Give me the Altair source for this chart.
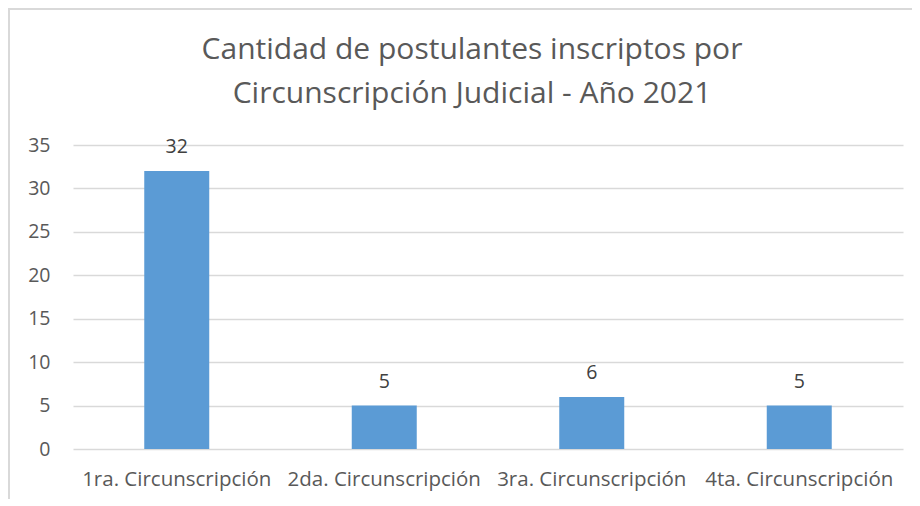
import altair as alt
import pandas as pd

categories = ["1ra. Circunscripción", "2da. Circunscripción", "3ra. Circunscripción", "4ta. Circunscripción"]
values = [32, 5, 6, 5]
title_lines = ["Cantidad de postulantes inscriptos por", "Circunscripción Judicial - Año 2021"]

df = pd.DataFrame({"cat": categories, "val": values})

FONT = "Open Sans"
GRAY = "#595959"

base = alt.Chart(df)

x = alt.X("cat:N", sort=categories, title=None,
          scale=alt.Scale(paddingInner=0.0, paddingOuter=0.0),
          axis=alt.Axis(labelAngle=0, labelFont=FONT, labelFontSize=20.5, labelColor=GRAY,
                        labelLimit=400, domain=False, ticks=False, labelPadding=20, grid=False))
y = alt.Y("val:Q", title=None,
          scale=alt.Scale(domain=[0, 35]),
          axis=alt.Axis(values=[0, 5, 10, 15, 20, 25, 30, 35], labelFont=FONT, labelFontSize=19.5,
                        labelColor=GRAY, domain=False, ticks=False, labelPadding=23,
                        gridColor="#d9d9d9", gridWidth=1.5))

bars = base.mark_bar(color="#5B9BD5", size=65).encode(x=x, y=y)
labels = base.mark_text(font=FONT, fontSize=19.5, color="#404040", baseline="alphabetic", dy=-18).encode(
    x=alt.X("cat:N", sort=categories), y="val:Q", text="val:Q")

one = pd.DataFrame({"a": [0]})
title1 = alt.Chart(pd.DataFrame({"t": [title_lines[0]]})).mark_text(
    font=FONT, fontSize=30, color=GRAY, baseline="alphabetic", align="center"
).encode(x=alt.value(399), y=alt.value(-86), text="t:N")
title2 = alt.Chart(pd.DataFrame({"t": [title_lines[1]]})).mark_text(
    font=FONT, fontSize=30, color=GRAY, baseline="alphabetic", align="center"
).encode(x=alt.value(399), y=alt.value(-42), text="t:N")

top_line = alt.Chart(one).mark_rule(color="#d9d9d9", strokeWidth=2, clip=False).encode(
    x=alt.value(-65), x2=alt.value(840), y=alt.value(-136))
left_line = alt.Chart(one).mark_rule(color="#d9d9d9", strokeWidth=2, clip=False).encode(
    x=alt.value(-64), y=alt.value(-136), y2=alt.value(360))

chart = alt.layer(top_line, left_line, bars, labels, title1, title2).properties(
    width=830, height=304,
    background="white",
    autosize=alt.AutoSizeParams(type="none"),
    padding={"left": 65, "top": 137, "right": 9, "bottom": 50},
).configure_view(stroke="transparent", strokeWidth=0)

chart.save("out.html", embed_options={"renderer": "svg", "actions": False})
